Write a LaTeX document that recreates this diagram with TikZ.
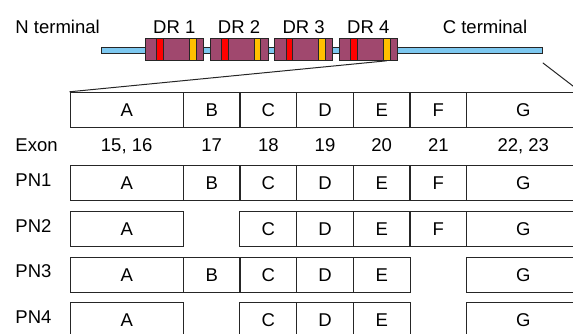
\documentclass[tikz,border=0pt]{standalone}
\usepackage{fontspec}
\setmainfont{Liberation Sans}
\definecolor{drfill}{RGB}{160,72,110}
\definecolor{barblue}{RGB}{125,200,240}
\definecolor{stripeyel}{RGB}{255,192,0}
\begin{document}
\begin{tikzpicture}[x=1pt, y=-1pt, line width=1pt, font=\fontsize{18.5}{22}\selectfont,
  cell/.style={draw=black!85, minimum height=35pt, minimum width=56.67pt, inner sep=0pt},
  colA/.style={cell, minimum width=113.33pt, xshift=126.67pt},
  colB/.style={cell, xshift=211.67pt},
  colC/.style={cell, xshift=268.33pt},
  colD/.style={cell, xshift=325pt},
  colE/.style={cell, xshift=381.67pt},
  colF/.style={cell, xshift=438.33pt},
  colG/.style={cell, minimum width=113.33pt, xshift=523.33pt},
  rowlabel/.style={anchor=base west, inner sep=0pt},
  dr/.style={draw=black!85, fill=drfill, minimum width=58pt, minimum height=22pt, inner sep=0pt},
  stripe/.style={draw=black!85, minimum width=6.7pt, minimum height=22pt, inner sep=0pt}]
\useasboundingbox (0,0) rectangle (573,334);

% protein bar
\node[draw=black!85, fill=barblue, minimum width=440.6pt, minimum height=6.3pt, inner sep=0pt] (bar) at (322,50.2) {};
\node[rowlabel] (nterm) at (15,33.3) {N terminal};
\node[anchor=base] (cterm) at (485,33.3) {C terminal};

% repeats
\foreach \i/\x in {1/174.3, 2/239, 3/303.7, 4/368.3}{
  \node[dr] (dr\i) at (\x,49.3) {};
  \node[stripe, fill=red] (red\i) at ([xshift=-14.3pt]dr\i.center) {};
  \node[stripe, fill=stripeyel] (yel\i) at ([xshift=18.4pt]dr\i.center) {};
  \node[anchor=base] (lbl\i) at (\x,33.3) {DR \i};
}

% exon table
\foreach \c in {A,...,G}
  \node[col\c] (t\c) at (0,109.8) {\c};
\node[rowlabel] (exon) at (15,151.5) {Exon};
\foreach \c/\n in {A/{15, 16}, B/17, C/18, D/19, E/20, F/21, G/{22, 23}}
  \node[anchor=base] (e\c) at (t\c.center |- exon.base) {\n};

% zoom lines
\coordinate (cz) at ([yshift=-9pt]bar.south east);
\draw[black!85] (yel4.south) -- (tA.north west);
\draw[black!85] (cz) -- (tG.north east);

% isoforms
\foreach \r/\yc/\cells in {1/183.3/{A,B,C,D,E,F,G}, 2/229/{A,C,D,E,F,G}, 3/274.7/{A,B,C,D,E,G}, 4/320.4/{A,C,D,E,G}}{
  \node[rowlabel] (pn\r) at (15,\yc+3) {PN\r};
  \foreach \c in \cells
    \node[col\c] (p\r\c) at (0,\yc) {\c};
}
\end{tikzpicture}
\end{document}
